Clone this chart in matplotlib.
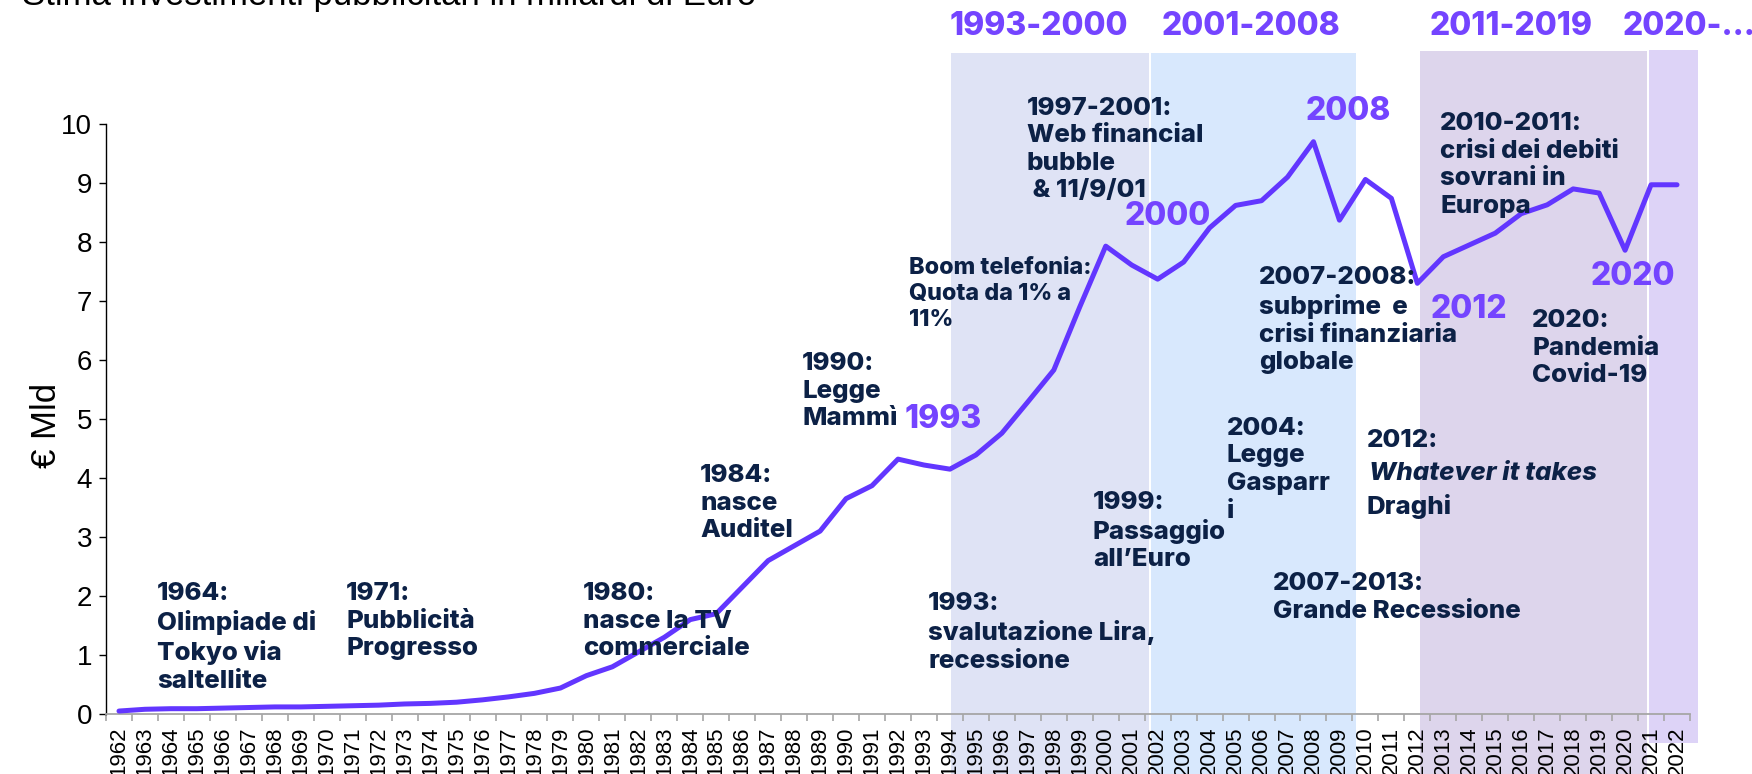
import numpy as np
import matplotlib
matplotlib.use("Agg")
import matplotlib.pyplot as plt
from matplotlib.patches import Rectangle
from matplotlib.transforms import blended_transform_factory

# ---------------- data ----------------
years = list(range(1962, 2023))
values = [0.05, 0.08, 0.09, 0.09, 0.10, 0.11, 0.12, 0.12, 0.13, 0.14,
          0.15, 0.17, 0.18, 0.20, 0.24, 0.29, 0.35, 0.44, 0.65, 0.80,
          1.05, 1.30, 1.60, 1.70, 2.15, 2.60, 2.85, 3.10, 3.65, 3.87,
          4.32, 4.22, 4.15, 4.39, 4.76, 5.29, 5.83, 6.90, 7.93, 7.61,
          7.37, 7.66, 8.24, 8.62, 8.70, 9.10, 9.70, 8.37, 9.06, 8.74,
          7.30, 7.75, 7.95, 8.15, 8.48, 8.63, 8.90, 8.83, 7.86, 8.97, 8.97]
yticks = list(range(0, 11))

period_labels = ["1993-2000", "2001-2008", "2011-2019", "2020-..."]
shade_spans = [(1994.05, 2001.67), (2001.74, 2009.62), (2012.10, 2020.85), (2020.93, 2022.80)]

W, H = 1752, 774
fig = plt.figure(figsize=(W / 100, H / 100), dpi=100)


def fx(px):
    return px / W


def fy(py):
    return 1 - py / H


NAVY = "#0c2146"
LINE = "#6236ff"
PURP = "#7444ff"
BOLD = 800
shade_colors = ["#dfe3f5", "#d8e8fd", "#ddd5ec", "#ddd3f7"]
shade_top = [53, 53, 51, 50]
shade_bottom = [774, 774, 774, 743]

ax = fig.add_axes([fx(106), fy(714), (1690 - 106) / W, (714 - 124) / H])
ax.patch.set_visible(False)

trans = blended_transform_factory(ax.transData, fig.transFigure)
for (x0, x1), c, t, b in zip(shade_spans, shade_colors, shade_top, shade_bottom):
    ax.add_patch(Rectangle((x0, fy(b)), x1 - x0, fy(t) - fy(b), transform=trans,
                           facecolor=c, edgecolor="none", clip_on=False, zorder=0))

ax.plot(years, values, color=LINE, lw=3.6, zorder=3, solid_capstyle="round")

ax.set_xlim(1961.5, 2022.5)
ax.set_ylim(0, 10)
for s in ["top", "right"]:
    ax.spines[s].set_visible(False)
ax.spines["left"].set_color("#000000")
ax.spines["left"].set_linewidth(1.0)
ax.spines["bottom"].set_color("#a6a6a6")
ax.spines["bottom"].set_linewidth(1.3)

ax.set_xticks(np.arange(1961.5, 2023, 1.0))
ax.set_xticks(years, minor=True)
ax.set_xticklabels([str(y) for y in years], minor=True, rotation=90,
                   fontfamily="Liberation Sans", fontsize=16)
ax.tick_params(axis="x", which="major", length=5, width=1.2, color="#a6a6a6",
               direction="out", labelbottom=False)
ax.tick_params(axis="x", which="minor", length=0, pad=9)

ax.set_yticks(yticks)
ax.set_yticklabels([str(v) for v in yticks], fontfamily="Liberation Sans", fontsize=20)
ax.tick_params(axis="y", length=5, width=1.0, color="#000000", direction="out", pad=5)

fig.text(fx(47), fy(425), "€ Mld", rotation=90, va="center", ha="center",
         fontsize=25, fontfamily="Liberation Sans")

fig.text(fx(22), fy(5), "Stima investimenti pubblicitari in miliardi di Euro",
         va="baseline", ha="left", fontsize=25, fontfamily="Liberation Sans")

# period labels
for lab, px in zip(period_labels, [950, 1162, 1430, 1623]):
    fig.text(fx(px), fy(11), lab, va="top", ha="left", fontsize=23,
             fontfamily="Inter", fontweight=BOLD, color=PURP)

# purple year labels
for lab, px, py in [("1993", 905, 405), ("2000", 1125, 202), ("2008", 1306, 97),
                    ("2012", 1431, 295), ("2020", 1591, 262)]:
    fig.text(fx(px), fy(py - 1), lab, va="top", ha="left", fontsize=23,
             fontfamily="Inter", fontweight=BOLD, color=PURP)

notes = [
    ("1964:\nOlimpiade di\nTokyo via\nsaltellite", 157, 583, 18.6),
    ("1971:\nPubblicità\nProgresso", 346, 583, 18.6),
    ("1980:\nnasce la TV\ncommerciale", 583, 583, 18.6),
    ("1984:\nnasce\nAuditel", 700, 465, 18.6),
    ("1990:\nLegge\nMammì", 802, 353, 18.6),
    ("Boom telefonia:\nQuota da 1% a\n11%", 909, 258, 16.8),
    ("1997-2001:\nWeb financial\nbubble\n & 11/9/01", 1027, 98, 18.6),
    ("1999:\nPassaggio\nall\u2019Euro", 1093, 492, 18.6),
    ("1993:\nsvalutazione Lira,\nrecessione", 928, 593, 18.6),
    ("2004:\nLegge\nGasparr\ni", 1227, 418, 18.6),
    ("2007-2008:\nsubprime  e\ncrisi finanziaria\nglobale", 1259, 267, 18.6),
    ("2007-2013:\nGrande Recessione", 1273, 573, 18.6),
    ("2010-2011:\ncrisi dei debiti\nsovrani in\nEuropa", 1440, 113, 18.6),
    ("2020:\nPandemia\nCovid-19", 1532, 310, 18.6),
]
for txt, px, py, fs in notes:
    fig.text(fx(px), fy(py - 1), txt, va="top", ha="left", fontsize=fs,
             fontfamily="Inter", fontweight=BOLD, color=NAVY, linespacing=1.25)

fig.text(fx(1367), fy(429), "2012:", va="top", ha="left", fontsize=18.6,
         fontfamily="Inter", fontweight=BOLD, color=NAVY)
fig.text(fx(1369), fy(462), "Whatever it takes", va="top", ha="left", fontsize=18.6,
         fontfamily="Inter", fontweight=BOLD, fontstyle="italic", color=NAVY)
fig.text(fx(1367), fy(494), "Draghi", va="top", ha="left", fontsize=18.6,
         fontfamily="Inter", fontweight=BOLD, color=NAVY)

fig.savefig("out.png", dpi=100)
